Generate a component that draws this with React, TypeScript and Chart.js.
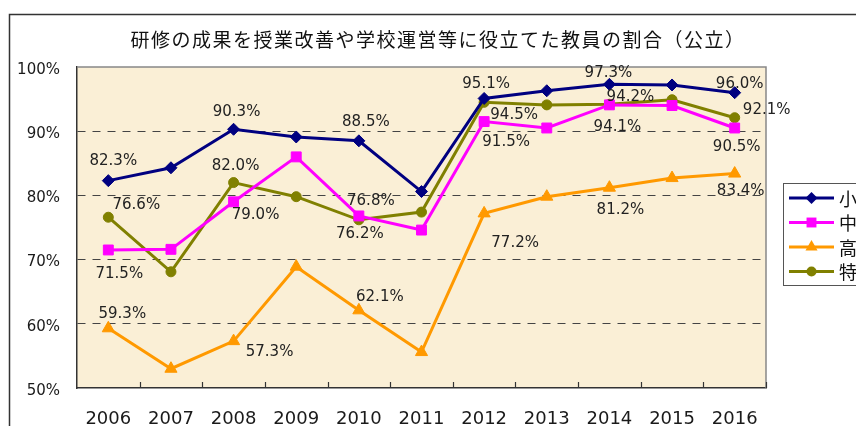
import { useEffect, useRef } from "react";
import { Chart, registerables } from "chart.js";

Chart.register(...registerables);

const TITLE = "研修の成果を授業改善や学校運営等に役立てた教員の割合（公立）";
const YEARS = ["2006", "2007", "2008", "2009", "2010", "2011", "2012", "2013", "2014", "2015", "2016"];
const SERIES_NAMES = ["小", "中", "高", "特"];
const ELEMENTARY = [82.3, 84.3, 90.3, 89.1, 88.5, 80.6, 95.1, 96.3, 97.3, 97.2, 96.0];
const JUNIOR = [71.5, 71.6, 79.0, 86.0, 76.8, 74.6, 91.5, 90.5, 94.1, 94.0, 90.5];
const HIGH = [59.3, 53.0, 57.3, 68.9, 62.1, 55.6, 77.2, 79.8, 81.2, 82.7, 83.4];
const SPECIAL = [76.6, 68.1, 82.0, 79.8, 76.2, 77.4, 94.5, 94.1, 94.2, 94.9, 92.1];
const LABELED_YEARS = ["2006", "2008", "2010", "2012", "2014", "2016"];
const Y_MIN = 50;
const Y_MAX = 100;
const Y_STEP = 10;

// styling (label placement offsets in px, per series, per labeled year)
const COLORS = ["#000080", "#FF00FF", "#FF9900", "#808000"];
const POINT_STYLES = ["rectRot", "rect", "triangle", "circle"];
const POINT_RADII = [6, 7, 7, 5];
const LABEL_OFFSETS = [
  [[5, -20], [3, -17], [7, -19], [2, -14], [-1, -11], [5, -9]],
  [[11, 24], [22, 13], [12, -15], [22, 21], [8, 22], [2, 19]],
  [[14, -14], [36, 11], [21, -13], [31, 30], [11, 22], [6, 18]],
  [[28, -12], [2, -16], [1, 14], [30, 13], [21, -7], [32, -8]],
];

const SERIES = [ELEMENTARY, JUNIOR, HIGH, SPECIAL];

const TEXT_FONT = "DejaVu Sans, Liberation Sans, sans-serif";
const CJK_FONT = "'Noto Sans CJK JP', 'Noto Sans CJK SC', sans-serif";

function drawMarker(ctx: CanvasRenderingContext2D, style: string, x: number, y: number, r: number, color: string) {
  ctx.save();
  ctx.fillStyle = color;
  ctx.strokeStyle = color;
  ctx.beginPath();
  if (style === "rectRot") {
    ctx.moveTo(x - r, y);
    ctx.lineTo(x, y - r);
    ctx.lineTo(x + r, y);
    ctx.lineTo(x, y + r);
    ctx.closePath();
  } else if (style === "rect") {
    const s = r * Math.SQRT1_2;
    ctx.rect(x - s, y - s, 2 * s, 2 * s);
  } else if (style === "triangle") {
    ctx.moveTo(x, y - r);
    ctx.lineTo(x + r * 0.866, y + r * 0.5);
    ctx.lineTo(x - r * 0.866, y + r * 0.5);
    ctx.closePath();
  } else {
    ctx.arc(x, y, r, 0, Math.PI * 2);
  }
  ctx.fill();
  ctx.restore();
}

const decorPlugin = {
  id: "decor",
  beforeDraw(chart: any) {
    const { ctx, chartArea: a } = chart;
    ctx.save();
    ctx.fillStyle = "#ffffff";
    ctx.fillRect(0, 0, chart.width, chart.height);
    // outer frame (cropped on right/bottom)
    ctx.strokeStyle = "#333333";
    ctx.lineWidth = 1.5;
    ctx.strokeRect(9.5, 14.5, 1200, 1200);
    // plot background
    ctx.fillStyle = "#FAEFD6";
    ctx.fillRect(a.left, a.top, a.right - a.left, a.bottom - a.top);
    // title
    ctx.fillStyle = "#111111";
    ctx.font = "19px " + CJK_FONT;
    (ctx as any).letterSpacing = "1.5px";
    ctx.textAlign = "center";
    ctx.textBaseline = "middle";
    ctx.fillText(TITLE, 438, 40);
    (ctx as any).letterSpacing = "0px";
    ctx.restore();
  },
  beforeDatasetsDraw(chart: any) {
    const { ctx, chartArea: a } = chart;
    const xs = chart.scales.x;
    ctx.save();
    // top/right plot border (gray)
    ctx.strokeStyle = "#888888";
    ctx.lineWidth = 1.5;
    ctx.beginPath();
    ctx.moveTo(a.left, a.top);
    ctx.lineTo(a.right, a.top);
    ctx.lineTo(a.right, a.bottom);
    ctx.stroke();
    // inward tick marks on category boundaries
    ctx.strokeStyle = "#333333";
    ctx.lineWidth = 1.2;
    const half = (xs.getPixelForValue(1) - xs.getPixelForValue(0)) / 2;
    for (let i = 0; i < YEARS.length; i++) {
      const x = Math.round(xs.getPixelForValue(i) + half) + 0.5;
      ctx.beginPath();
      ctx.moveTo(x, a.bottom);
      ctx.lineTo(x, a.bottom - 6);
      ctx.stroke();
    }
    ctx.restore();
  },
  afterDatasetsDraw(chart: any) {
    const { ctx } = chart;
    const xs = chart.scales.x;
    const ys = chart.scales.y;
    ctx.save();
    ctx.fillStyle = "#222222";
    ctx.font = "15px " + TEXT_FONT;
    ctx.textAlign = "center";
    ctx.textBaseline = "middle";
    SERIES.forEach((vals, si) => {
      LABELED_YEARS.forEach((yr, li) => {
        const idx = YEARS.indexOf(yr);
        const v = vals[idx];
        const [dx, dy] = LABEL_OFFSETS[si][li];
        const x = xs.getPixelForValue(idx) + dx;
        const y = ys.getPixelForValue(v) + dy;
        ctx.fillText(v.toFixed(1) + "%", x, y);
      });
    });
    // legend
    const bx = 783.5, by = 183.5;
    ctx.strokeStyle = "#555555";
    ctx.lineWidth = 1;
    ctx.fillStyle = "#ffffff";
    ctx.fillRect(bx, by, 200, 102);
    ctx.strokeRect(bx, by, 200, 102);
    SERIES_NAMES.forEach((name, i) => {
      const y = 198 + i * 24.5;
      ctx.strokeStyle = COLORS[i];
      ctx.lineWidth = 3;
      ctx.beginPath();
      ctx.moveTo(789, y);
      ctx.lineTo(834, y);
      ctx.stroke();
      drawMarker(ctx, POINT_STYLES[i], 811.5, y, POINT_RADII[i], COLORS[i]);
      ctx.fillStyle = "#111111";
      ctx.font = "18px " + CJK_FONT;
      ctx.textAlign = "left";
      ctx.textBaseline = "middle";
      ctx.fillText(name, 839, y + 1);
    });
    ctx.restore();
  },
};

export default function App() {
  const ref = useRef<HTMLCanvasElement | null>(null);

  useEffect(() => {
    document.body.style.margin = "0";
    const canvas = ref.current;
    if (!canvas) return;
    const chart = new Chart(canvas, {
      type: "line",
      data: {
        labels: YEARS,
        datasets: SERIES.map((vals, i) => ({
          label: SERIES_NAMES[i],
          data: vals,
          borderColor: COLORS[i],
          backgroundColor: COLORS[i],
          borderWidth: 3,
          pointStyle: POINT_STYLES[i] as any,
          pointRadius: POINT_RADII[i],
          pointHoverRadius: POINT_RADII[i],
          pointBorderWidth: 1,
          pointBorderColor: COLORS[i],
          pointBackgroundColor: COLORS[i],
          tension: 0,
          clip: false as any,
        })),
      },
      options: {
        responsive: false,
        animation: false,
        devicePixelRatio: 1,
        layout: { padding: { left: 0, right: 90, top: 67, bottom: 0 } },
        plugins: {
          legend: { display: false },
          title: { display: false },
          tooltip: { enabled: false },
        },
        scales: {
          x: {
            offset: true,
            afterFit: (s: any) => { s.height = 38; },
            grid: { display: false, drawTicks: false },
            border: { display: true, color: "#333333", width: 1.5 },
            ticks: {
              color: "#1a1a1a",
              padding: 21,
              font: { family: TEXT_FONT, size: 18 },
              maxRotation: 0,
              autoSkip: false,
            },
          },
          y: {
            min: Y_MIN,
            max: Y_MAX,
            afterFit: (s: any) => { s.width = 77; },
            grid: {
              drawTicks: false,
              color: (c: any) => (c.tick && (c.tick.value === Y_MIN || c.tick.value === Y_MAX) ? "rgba(0,0,0,0)" : "#444444"),
              lineWidth: 1,
            },
            border: { display: true, color: "#333333", width: 1.5, dash: [8, 7] },
            ticks: {
              stepSize: Y_STEP,
              color: "#1a1a1a",
              padding: 17,
              labelOffset: 3,
              font: { family: TEXT_FONT, size: 15 },
              callback: (v: any) => v + "%",
            },
          },
        },
      },
      plugins: [decorPlugin],
    });
    return () => chart.destroy();
  }, []);

  return (
    <div style={{ position: "absolute", left: 0, top: 0, width: 856, height: 426 }}>
      <canvas ref={ref} width={856} height={426} />
    </div>
  );
}
